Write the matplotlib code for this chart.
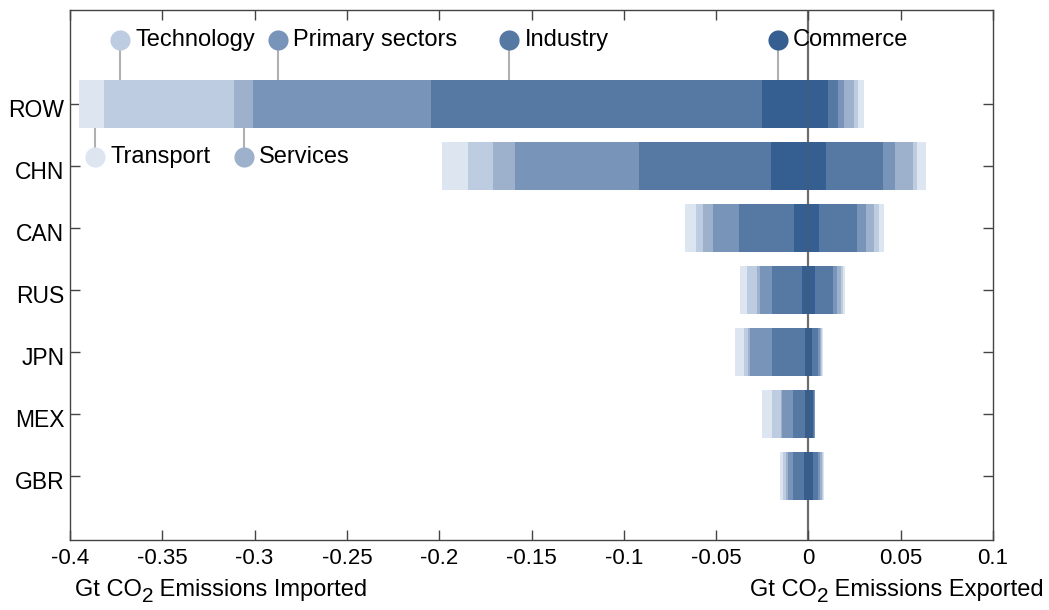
import matplotlib
matplotlib.use("Agg")
import matplotlib.pyplot as plt
import matplotlib.transforms as mtransforms
import numpy as np

plt.rcParams['font.family'] = ['Liberation Sans', 'DejaVu Sans']

countries = ["ROW", "CHN", "CAN", "RUS", "JPN", "MEX", "GBR"]
sectors = ["Commerce", "Industry", "Primary sectors", "Services", "Technology", "Transport"]

# Emissions imported (Gt CO2), per sector, one value per country
imp_commerce = [0.0249, 0.0204, 0.0077, 0.0032, 0.0019, 0.0017, 0.0026]
imp_industry = [0.1798, 0.0714, 0.0300, 0.0163, 0.0176, 0.0064, 0.0055]
imp_primary = [0.0962, 0.0671, 0.0139, 0.0067, 0.0124, 0.0060, 0.0029]
imp_services = [0.0100, 0.0119, 0.0057, 0.0018, 0.0007, 0.0009, 0.0009]
imp_technology = [0.0708, 0.0136, 0.0034, 0.0051, 0.0024, 0.0049, 0.0016]
imp_transport = [0.0136, 0.0140, 0.0060, 0.0042, 0.0045, 0.0050, 0.0018]

# Emissions exported (Gt CO2), per sector, one value per country
exp_commerce = [0.0104, 0.0095, 0.0059, 0.0035, 0.0019, 0.0023, 0.0023]
exp_industry = [0.0054, 0.0309, 0.0203, 0.0097, 0.0031, 0.0009, 0.0027]
exp_primary = [0.0036, 0.0063, 0.0051, 0.0023, 0.0013, 0.0003, 0.0014]
exp_services = [0.0051, 0.0097, 0.0045, 0.0022, 0.0007, 0.0001, 0.0008]
exp_technology = [0.0025, 0.0025, 0.0022, 0.0009, 0.0004, 0.0001, 0.0005]
exp_transport = [0.0029, 0.0047, 0.0027, 0.0013, 0.0005, 0.0001, 0.0006]

xticks = [-0.4, -0.35, -0.3, -0.25, -0.2, -0.15, -0.1, -0.05, 0, 0.05, 0.1]
xtick_labels = ["-0.4", "-0.35", "-0.3", "-0.25", "-0.2", "-0.15", "-0.1", "-0.05", "0", "0.05", "0.1"]

imports = [imp_commerce, imp_industry, imp_primary, imp_services, imp_technology, imp_transport]
exports = [exp_commerce, exp_industry, exp_primary, exp_services, exp_technology, exp_transport]
colors = ["#365f91", "#5679a4", "#7994b9", "#9db1cd", "#bdcce1", "#dde5f1"]

W, H = 1049, 610
fig = plt.figure(figsize=(W / 100, H / 100), dpi=100)
ax = fig.add_axes([70 / W, 70 / H, 923 / W, 530 / H])

y = np.arange(len(countries), 0, -1)  # ROW at top
bar_h = 0.775

ax.axvline(0, color="#7a7a7a", lw=1.6, zorder=1)

left_imp = np.zeros(len(countries))
left_exp = np.zeros(len(countries))
for vals_i, vals_e, c in zip(imports, exports, colors):
    vi = np.array(vals_i)
    ve = np.array(vals_e)
    ax.barh(y, -vi, left=-left_imp, height=bar_h, color=c, edgecolor="none", zorder=2)
    ax.barh(y, ve, left=left_exp, height=bar_h, color=c, edgecolor="none", zorder=2)
    left_imp += vi
    left_exp += ve

ax.axvline(0, color="#555555", lw=1.4, alpha=0.35, zorder=3)

# sector key: circles with stems pointing at the top bar
top = y[0]
key = [
    ("Technology", -0.3728, 8.03, colors[4], top + bar_h / 2),
    ("Primary sectors", -0.2873, 8.03, colors[2], top + bar_h / 2),
    ("Industry", -0.1620, 8.03, colors[1], top + bar_h / 2),
    ("Commerce", -0.0166, 8.03, colors[0], top + bar_h / 2),
    ("Transport", -0.3864, 6.15, colors[5], top - bar_h / 2),
    ("Services", -0.3058, 6.15, colors[3], top - bar_h / 2),
]
for name, kx, ky, c, yend in key:
    ax.plot([kx, kx], [ky, yend], color="#b0b0b0", lw=1.5, zorder=1.5)
    ax.plot(kx, ky, "o", ms=14.5, color=c, mec="none", zorder=4)
    ax.text(kx + 0.0082, ky, name, fontsize=17, va="center", ha="left", zorder=5)

ax.set_xlim(-0.4, 0.1)
ax.set_ylim(-0.03, 8.52)
ax.set_xticks(xticks)
ax.set_xticklabels(xtick_labels)
ax.set_yticks(y)
ax.set_yticklabels(countries)
ax.tick_params(axis="both", direction="in", length=7, width=1, colors="#444444",
               labelcolor="black", labelsize=16, right=True, top=True)
ax.tick_params(axis="x", pad=6)
ax.tick_params(axis="y", pad=4, labelsize=16.5)
for s in ax.spines.values():
    s.set_color("#444444")
    s.set_linewidth(1.0)

# country names sit a little below their bar centres
shift = mtransforms.ScaledTranslation(0, -4 / 100, fig.dpi_scale_trans)
for lab in ax.get_yticklabels():
    lab.set_transform(lab.get_transform() + shift)


def co2_label(x_px, y_px, rest, align):
    """Axis caption 'Gt CO2 ...' with a lowered subscript 2, placed in pixels."""
    fs = 17
    parts = [("Gt CO", fs, 0), ("2", 15, -7), (" " + rest, fs, 0)]
    fig.canvas.draw()
    r = fig.canvas.get_renderer()
    widths = []
    for txt, size, _ in parts:
        t = fig.text(0, 0, txt, fontsize=size)
        widths.append(t.get_window_extent(r).width)
        t.remove()
    total = sum(widths)
    x0 = x_px if align == "left" else x_px - total
    cx = x0
    for (txt, size, dy), w in zip(parts, widths):
        fig.text(cx / W, (H - y_px + dy) / H, txt, fontsize=size, ha="left", va="center")
        cx += w


co2_label(75, 590, "Emissions Imported", "left")
co2_label(1044, 590, "Emissions Exported", "right")

fig.savefig("out.png", dpi=100)
